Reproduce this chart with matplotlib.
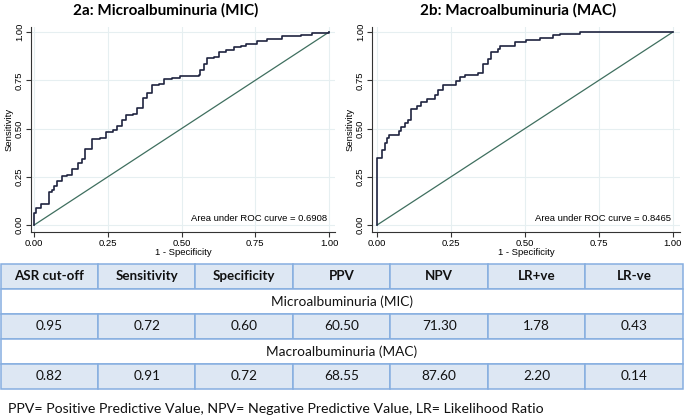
import matplotlib.pyplot as plt
from matplotlib.patches import Rectangle

# ROC curve corner points (1 - specificity, sensitivity)
mic_fpr = [0, 0, 0.005, 0.025, 0.051, 0.059, 0.068, 0.078, 0.093, 0.11, 0.13, 0.15,
           0.164, 0.172, 0.195, 0.223, 0.244, 0.269, 0.28, 0.297, 0.312, 0.334, 0.348,
           0.368, 0.382, 0.399, 0.422, 0.439, 0.467, 0.495, 0.558, 0.563, 0.575, 0.586,
           0.609, 0.626, 0.649, 0.677, 0.7, 0.717, 0.754, 0.79, 0.841, 0.904, 0.943, 1.0]
mic_tpr = [0, 0.06, 0.09, 0.11, 0.17, 0.18, 0.2, 0.23, 0.255, 0.26, 0.29, 0.32,
           0.34, 0.395, 0.445, 0.45, 0.48, 0.49, 0.515, 0.545, 0.57, 0.575, 0.605,
           0.66, 0.685, 0.725, 0.73, 0.755, 0.76, 0.77, 0.775, 0.805, 0.835, 0.865,
           0.87, 0.895, 0.905, 0.92, 0.925, 0.94, 0.955, 0.965, 0.98, 0.985, 0.995, 1.0]

mac_fpr = [0, 0, 0.018, 0.026, 0.034, 0.042, 0.074, 0.08, 0.095, 0.105, 0.116, 0.135,
           0.15, 0.17, 0.195, 0.205, 0.222, 0.268, 0.279, 0.296, 0.341, 0.358, 0.375,
           0.386, 0.409, 0.414, 0.465, 0.505, 0.55, 0.595, 0.617, 0.685, 1.0]
mac_tpr = [0, 0.345, 0.39, 0.425, 0.45, 0.465, 0.485, 0.51, 0.53, 0.545, 0.6, 0.615,
           0.64, 0.655, 0.675, 0.7, 0.725, 0.745, 0.765, 0.775, 0.79, 0.835, 0.86,
           0.895, 0.91, 0.925, 0.95, 0.96, 0.97, 0.985, 0.99, 1.0, 1.0]

titles = ['2a: Microalbuminuria (MIC)', '2b: Macroalbuminuria (MAC)']
auc_labels = ['Area under ROC curve = 0.6908', 'Area under ROC curve = 0.8465']
ticks = [0, 0.25, 0.5, 0.75, 1.0]
tick_labels = ['0.00', '0.25', '0.50', '0.75', '1.00']

# table contents
columns = ['ASR cut-off', 'Sensitivity', 'Specificity', 'PPV', 'NPV', 'LR+ve', 'LR-ve']
groups = ['Microalbuminuria (MIC)', 'Macroalbuminuria (MAC)']
mic_row = ['0.95', '0.72', '0.60', '60.50', '71.30', '1.78', '0.43']
mac_row = ['0.82', '0.91', '0.72', '68.55', '87.60', '2.20', '0.14']
footnote = 'PPV= Positive Predictive Value, NPV= Negative Predictive Value, LR= Likelihood Ratio'

W, H = 685, 418
fig = plt.figure(figsize=(W / 100, H / 100), dpi=100)
fig.patch.set_facecolor('white')

def px_axes(x0, y0, x1, y1):
    # pixel box (top-left origin) -> figure fraction
    return fig.add_axes([x0 / W, 1 - y1 / H, (x1 - x0) / W, (y1 - y0) / H])

tick_font = {'family': ['Liberation Sans', 'DejaVu Sans'], 'size': 6.8}
curve_col = '#1f2440'
diag_col = '#3f6f5f'
grid_col = '#e6eff1'

boxes = [(31, 27, 335, 232), (372, 27, 680, 232)]
xlims = [(-0.0105, 1.02), (-0.017, 1.024)]
data = [(mic_fpr, mic_tpr), (mac_fpr, mac_tpr)]
title_x = [166, 518]

for i in range(2):
    ax = px_axes(*boxes[i])
    fpr, tpr = data[i]
    ax.step(fpr, tpr, where='post', color=curve_col, lw=1.2, zorder=3)
    ax.plot([0, 1], [0, 1], color=diag_col, lw=0.9, zorder=2)
    ax.set_xlim(*xlims[i])
    ax.set_ylim(-0.036, 1.026)
    ax.set_xticks(ticks)
    ax.set_yticks(ticks)
    ax.set_xticklabels(tick_labels, fontdict=tick_font)
    ax.set_yticklabels(tick_labels, fontdict=tick_font, rotation=90, va='center')
    ax.grid(True, color=grid_col, lw=0.8, zorder=0)
    ax.set_axisbelow(True)
    for s in ['top', 'right']:
        ax.spines[s].set_visible(False)
    for s in ['left', 'bottom']:
        ax.spines[s].set_color('#333333')
        ax.spines[s].set_linewidth(0.8)
    ax.tick_params(length=3.5, width=0.8, color='#333333', pad=1.5)
    ax.set_xlabel('1 - Specificity', fontdict=tick_font, labelpad=0)
    ax.set_ylabel('Sensitivity', fontdict=tick_font, labelpad=1)
    ax.text(0.995, 0.01, auc_labels[i], ha='right', va='bottom', fontdict=tick_font)
    fig.text(title_x[i] / W, 1 - 10 / H, titles[i], ha='center', va='center',
             family=['Lato', 'DejaVu Sans'], fontweight='bold', fontsize=11)

# table drawn on an overlay axes in pixel units
tab = fig.add_axes([0, 0, 1, 1])
tab.set_xlim(0, W)
tab.set_ylim(H, 0)
tab.axis('off')

border = '#86aee0'
fill = '#dde7f3'
tx0, tx1 = 0.5, 683
col_w = (tx1 - tx0) / len(columns)
row_top = [264, 289, 314, 339, 364]
row_h = 25
tab_font = ['Lato', 'DejaVu Sans']

rows = [('head', columns), ('group', groups[0]), ('data', mic_row),
        ('group', groups[1]), ('data', mac_row)]
for (kind, content), top in zip(rows, row_top):
    cy = top + row_h / 2
    if kind == 'group':
        tab.add_patch(Rectangle((tx0, top), tx1 - tx0, row_h, facecolor='white',
                                edgecolor=border, lw=1.1))
        tab.text((tx0 + tx1) / 2, cy, content, ha='center', va='center',
                 family=tab_font, fontsize=9.8, color='#111111')
    else:
        for j, val in enumerate(content):
            x = tx0 + j * col_w
            tab.add_patch(Rectangle((x, top), col_w, row_h, facecolor=fill,
                                    edgecolor=border, lw=1.1))
            tab.text(x + col_w / 2, cy, val, ha='center', va='center',
                     family=tab_font, fontsize=9.6 if kind == 'head' else 9.8,
                     color='#111111',
                     fontweight='bold' if kind == 'head' else 'normal')

tab.text(8, 409, footnote, ha='left', va='center', family=tab_font,
         fontsize=10.2, color='#111111')

fig.savefig('out.png', dpi=100)
